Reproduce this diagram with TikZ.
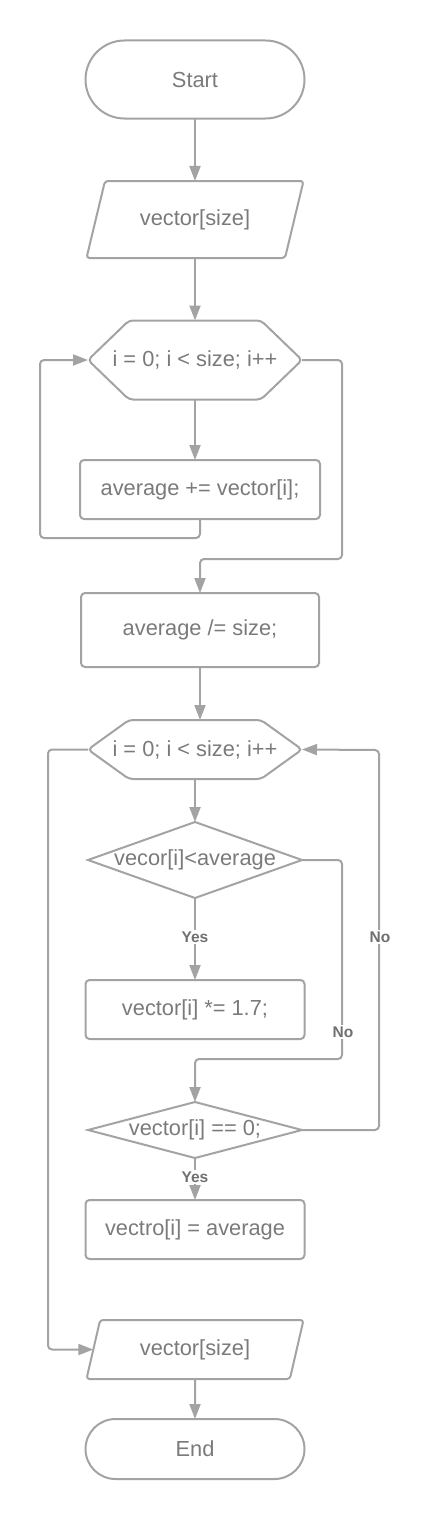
\documentclass[tikz,border=0pt]{standalone}
\usepackage{fontspec}
\setmainfont{Liberation Sans}
\usetikzlibrary{arrows.meta,positioning,shapes.geometric}
\definecolor{linegray}{RGB}{163,163,163}
\definecolor{textgray}{RGB}{122,122,122}
\definecolor{labelgray}{RGB}{112,112,112}

\begin{document}
\begin{tikzpicture}[x=1pt,y=-1pt]
\tikzset{
  chartnode/.style={draw=linegray,line width=2pt,text=textgray,font=\fontsize{21.8}{26}\selectfont,inner sep=0pt,outer sep=0pt},
  termnode/.style={chartnode,rectangle,rounded corners=39pt,minimum width=219pt,minimum height=78pt},
  ionode/.style={chartnode,trapezium,trapezium left angle=76.5,trapezium right angle=103.5,trapezium stretches body,rounded corners=3pt,text height=16pt,text depth=5pt,inner ysep=28pt,minimum width=217pt},
  loopnode/.style={chartnode,draw=none,rectangle,minimum width=214pt},
  loopedge/.style={draw=linegray,line width=2pt,rounded corners=4pt},
  procnode/.style={chartnode,rectangle,rounded corners=4pt,minimum width=219pt,minimum height=59pt},
  decnode/.style={chartnode,diamond,minimum width=214pt},
  flow/.style={draw=linegray,line width=2pt,rounded corners=4pt,-{Triangle[length=15pt,width=11pt]}},
  edgelabel/.style={fill=white,text=labelgray,font=\bfseries\fontsize{15.5}{18}\selectfont,inner sep=2pt}
}
\useasboundingbox (0,0) rectangle (432,1520);
\node[termnode] (n_start) at (195,79.5) {Start};
\node[ionode] (n_in) at (195,219.5) {vector[size]};
\node[loopnode,minimum height=79pt] (n_loop1) at (195,360) {\makebox[0pt]{i = 0; i < size; i++}};
\node[procnode,minimum width=240pt] (n_sum) at (200,489.5) {average += vector[i];};
\node[procnode,minimum width=238pt,minimum height=74pt] (n_avg) at (200,630) {average /= size;};
\node[loopnode,minimum height=59pt] (n_loop2) at (195,749.5) {\makebox[0pt]{i = 0; i < size; i++}};
\node[decnode,minimum height=76pt] (n_less) at (195,860) {\makebox[0pt]{vecor[i]<average}};
\node[procnode] (n_mul) at (195,1009.5) {vector[i] *= 1.7;};
\node[decnode,minimum height=56pt] (n_zero) at (195,1130) {\makebox[0pt]{vector[i] == 0;}};
\node[procnode] (n_set) at (195,1229.5) {vectro[i] = average};
\node[ionode,inner ysep=19pt,trapezium left angle=77,trapezium right angle=103] (n_out) at (195,1349.5) {vector[size]};
\node[termnode,minimum height=60pt,rounded corners=30pt] (n_end) at (195,1449) {End};
% hexagon outlines of the two for loops
\foreach \n in {n_loop1,n_loop2}
  \draw[loopedge] ([xshift=41pt]\n.north west) -- ([xshift=-41pt]\n.north east) -- (\n.east)
    -- ([xshift=-41pt]\n.south east) -- ([xshift=41pt]\n.south west) -- (\n.west) -- cycle;
% first loop
\draw[flow] (n_start) -- (n_in);
\draw[flow] (n_in) -- (n_loop1);
\draw[flow] (n_loop1) -- (n_loop1 |- n_sum.north);
\draw[flow] (n_sum.south) -- ++(0,19) -| ([xshift=-48pt]n_loop1.west) -- (n_loop1.west);
\draw[flow] (n_loop1.east) -| ++(40,199) -| (n_avg.north);
% second loop
\draw[flow] (n_avg) -- (n_avg |- n_loop2.north);
\draw[flow] (n_loop2) -- (n_less);
\draw[flow] (n_less) -- (n_mul);
\draw[flow] (n_less.east) -| ++(40,199) -| (n_zero.north);
\draw[flow] (n_zero.east) -| ++(77,-380) -- (n_loop2.east);
\draw[flow] (n_zero) -- (n_set);
\draw[flow] (n_loop2.west) -- ++(-40,0) |- (n_out.west);
\draw[flow] (n_out) -- (n_end);
% labels
\node[edgelabel] (l_yes1) at (195,937) {Yes};
\node[edgelabel] (l_no1) at (343,1032) {No};
\node[edgelabel] (l_no2) at (380,937) {No};
\node[edgelabel] (l_yes2) at (195,1177) {Yes};
\end{tikzpicture}
\end{document}
